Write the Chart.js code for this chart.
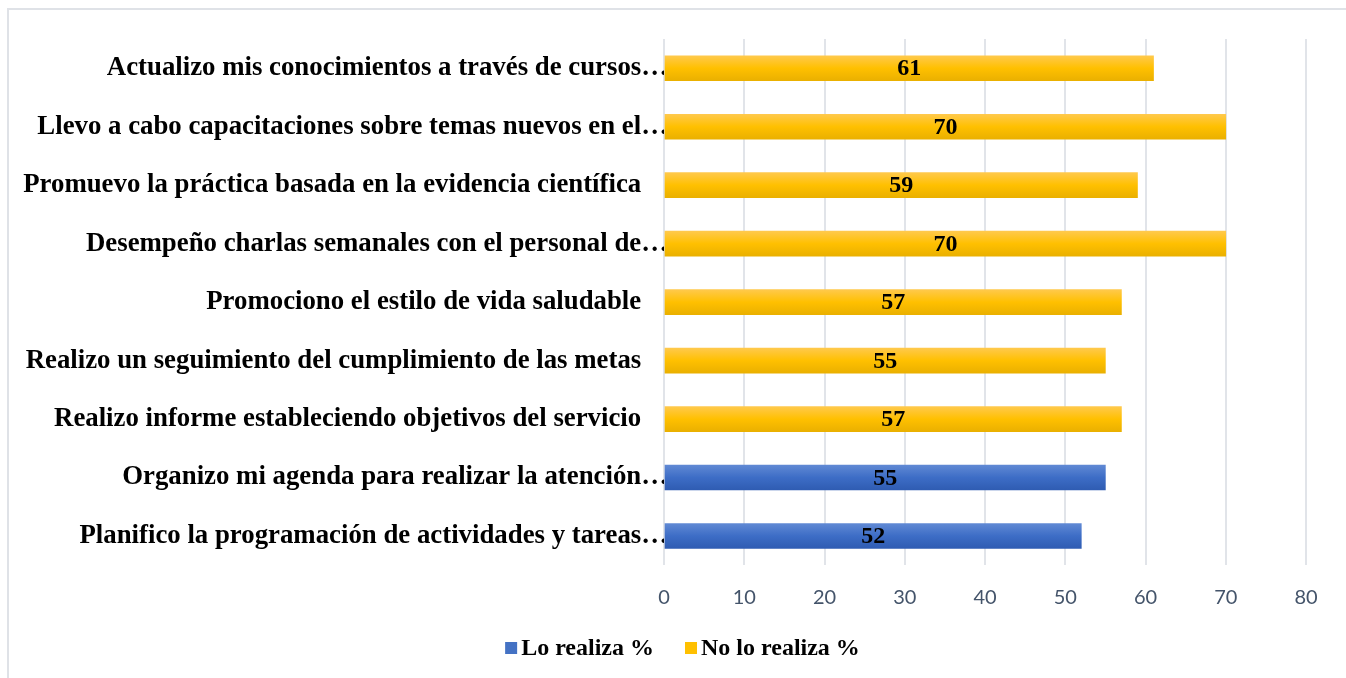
<!DOCTYPE html>
<html>
<head>
<meta charset="utf-8">
<script src="https://cdn.jsdelivr.net/npm/chart.js@4.4.1/dist/chart.umd.min.js"></script>
<style>
  html, body { margin: 0; padding: 0; background: #ffffff; overflow: hidden; }
  #frame { position: absolute; left: 7px; top: 8px; width: 1400px; height: 700px;
           border-top: 2px solid #dfe2e7; border-left: 2px solid #dfe2e7; }
  #wrap { position: absolute; left: 0; top: 0; width: 1346px; height: 678px; }
</style>
</head>
<body>
<div id="frame"></div>
<div id="wrap"><canvas id="c" width="1346" height="678"></canvas></div>
<script>
const categories = [
  "Actualizo mis conocimientos a través de cursos…",
  "Llevo a cabo capacitaciones sobre temas nuevos en el…",
  "Promuevo la práctica basada en la evidencia científica    ",
  "Desempeño charlas semanales con el personal de…",
  "Promociono el estilo de vida saludable    ",
  "Realizo un seguimiento del cumplimiento de las metas    ",
  "Realizo informe estableciendo objetivos del servicio    ",
  "Organizo mi agenda para realizar la atención…",
  "Planifico la programación de actividades y tareas…"
];
const loRealiza   = [null, null, null, null, null, null, null, 55, 52];
const noLoRealiza = [61, 70, 59, 70, 57, 55, 57, null, null];
const xTicks = [0, 10, 20, 30, 40, 50, 60, 70, 80];
const seriesNames = ['Lo realiza %', 'No lo realiza %'];
const seriesColors = ['#4472c4', '#ffc000'];

const SERIF = '"Liberation Serif", "Times New Roman", serif';

function barGradient(ctx, stops, solid) {
  const chart = ctx.chart;
  const y = chart.scales && chart.scales.y;
  if (!y || ctx.type !== 'data') return solid;
  const cy = y.getPixelForValue(ctx.dataIndex);
  if (!isFinite(cy)) return solid;
  const g = chart.ctx.createLinearGradient(0, cy - 12.5, 0, cy + 12.5);
  g.addColorStop(0, stops[0]);
  g.addColorStop(0.5, stops[1]);
  g.addColorStop(1, stops[2]);
  return g;
}

const valueLabels = {
  id: 'valueLabels',
  afterDatasetsDraw(chart) {
    const ctx = chart.ctx;
    ctx.save();
    ctx.font = 'bold 24px ' + SERIF;
    ctx.fillStyle = '#000000';
    ctx.textAlign = 'center';
    ctx.textBaseline = 'middle';
    chart.data.datasets.forEach((ds, di) => {
      const meta = chart.getDatasetMeta(di);
      meta.data.forEach((bar, i) => {
        const v = ds.data[i];
        if (v === null || v === undefined) return;
        const x = (bar.x + bar.base) / 2;
        ctx.fillText(String(v), x, bar.y + 1);
      });
    });
    ctx.restore();
  }
};

// Bottom legend drawn like the original (small square, tight gap to text)
const bottomLegend = {
  id: 'bottomLegend',
  afterDraw(chart) {
    const ctx = chart.ctx;
    ctx.save();
    ctx.font = 'bold 24px ' + SERIF;
    ctx.textBaseline = 'middle';
    ctx.textAlign = 'left';
    const box = 12, gapText = 4, gapItem = 31, cy = 648, centerX = 682.5;
    const items = chart.data.datasets.map((ds, i) => ({ text: ds.label, color: seriesColors[i], w: ctx.measureText(ds.label).width }));
    let total = 0;
    items.forEach((it, i) => { total += box + gapText + it.w + (i < items.length - 1 ? gapItem : 0); });
    let x = centerX - total / 2;
    items.forEach((it) => {
      ctx.fillStyle = it.color;
      ctx.fillRect(x, cy - box / 2, box, box);
      x += box + gapText;
      ctx.fillStyle = '#000000';
      ctx.fillText(it.text, x, cy + 1);
      x += it.w + gapItem;
    });
    ctx.restore();
  }
};

new Chart(document.getElementById('c'), {
  type: 'bar',
  data: {
    labels: categories,
    datasets: [
      {
        label: seriesNames[0],
        data: loRealiza,
        backgroundColor: (c) => barGradient(c, ['#6089d4', '#3d6dc6', '#2f5cb2'], seriesColors[0]),
        barThickness: 25
      },
      {
        label: seriesNames[1],
        data: noLoRealiza,
        backgroundColor: (c) => barGradient(c, ['#ffc94c', '#ffc000', '#eab000'], seriesColors[1]),
        barThickness: 25
      }
    ]
  },
  options: {
    indexAxis: 'y',
    responsive: false,
    animation: false,
    devicePixelRatio: 1,
    layout: { padding: { left: 0, right: 40, top: 39, bottom: 54 } },
    scales: {
      x: {
        stacked: true,
        min: 0, max: 80,
        afterBuildTicks: (s) => { s.ticks = xTicks.map(v => ({ value: v })); },
        afterFit: (s) => { s.height = 58.75; },
        grid: { color: '#e1e4e9', lineWidth: 2, drawTicks: false },
        border: { display: false },
        ticks: { color: '#44546a', font: { family: 'Lato', size: 20 }, padding: 20 }
      },
      y: {
        stacked: true,
        afterFit: (s) => { s.width = 664; },
        grid: { display: false, drawTicks: false },
        border: { display: false },
        ticks: { color: '#000000', font: { family: SERIF, size: 26.8, weight: 'bold' }, padding: -4, autoSkip: false }
      }
    },
    plugins: {
      legend: { display: false },
      tooltip: { enabled: false }
    }
  },
  plugins: [valueLabels, bottomLegend]
});
</script>
</body>
</html>
